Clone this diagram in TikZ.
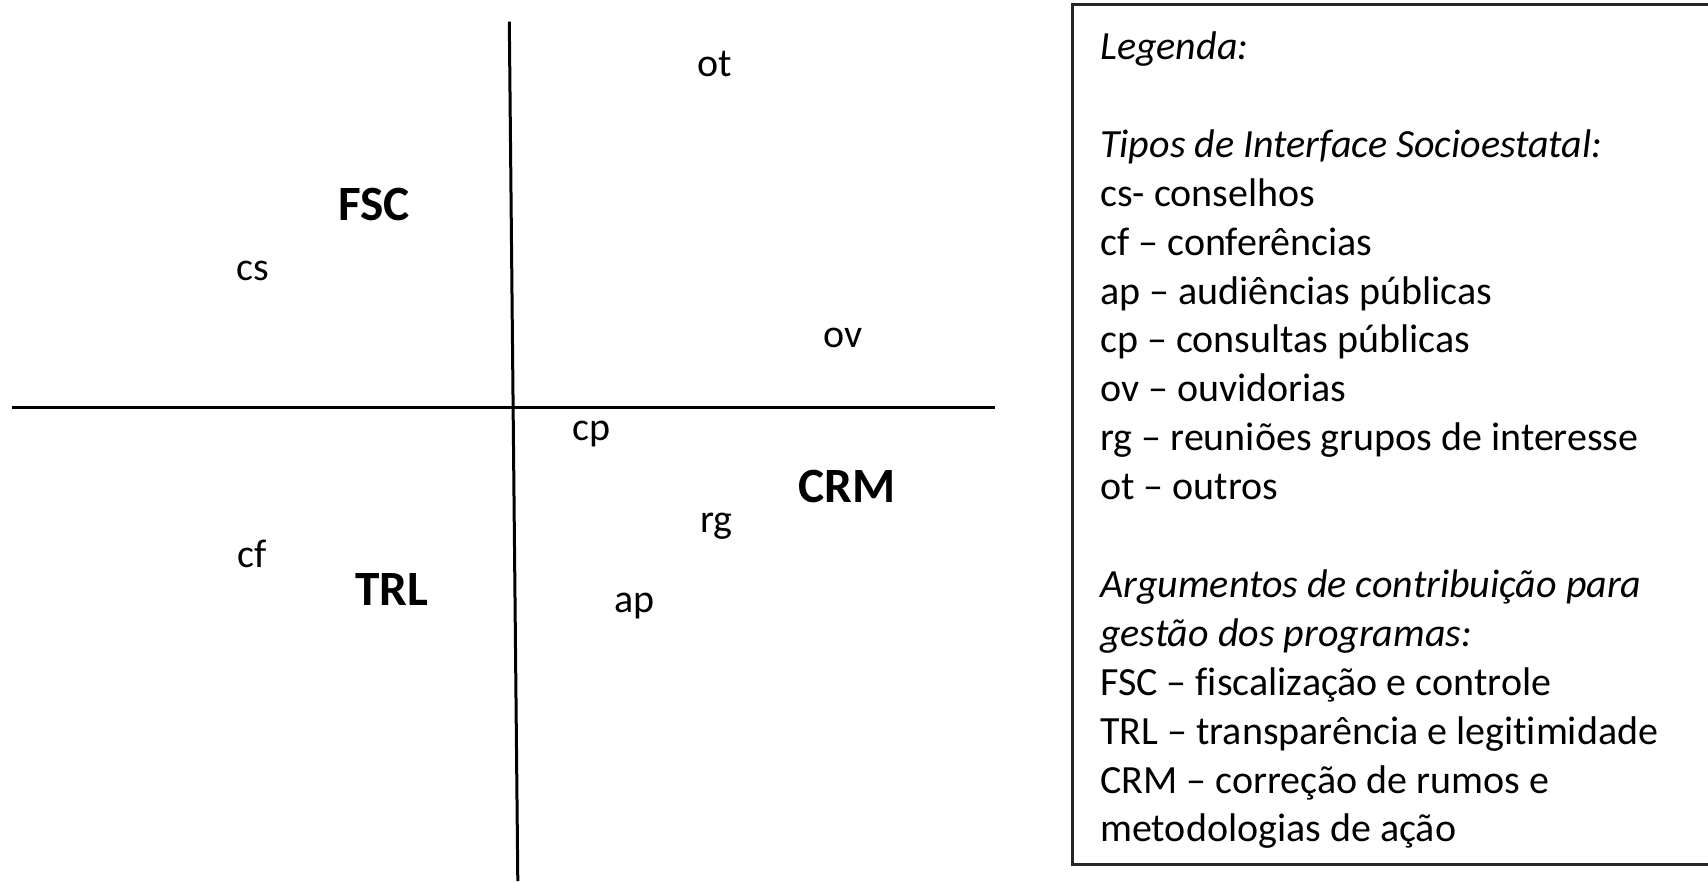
\documentclass[tikz,border=0pt]{standalone}
\usepackage{fontspec}
\setmainfont{Carlito}[Ligatures={TeX,NoCommon}]
\tikzset{
  axis/.style={line width=2.25pt, black},
  frame/.style={line width=2.25pt, black!85},
  lab/.style={anchor=base west, inner sep=0pt, font=\fontsize{30}{36}\selectfont},
  arg/.style={anchor=base west, inner sep=0pt, font=\fontsize{37}{44}\selectfont\bfseries},
  leg/.style={anchor=base west, inner sep=0pt, font=\fontsize{30}{36}\selectfont},
}
\begin{document}
\begin{tikzpicture}[x=0.75pt, y=-0.75pt]
\useasboundingbox (0,0) rectangle (1708,881);
% axes
\coordinate (vtop) at (509.3,21.7);
\coordinate (vbot) at (517.8,881);
\coordinate (hl) at (11.7,407.7);
\coordinate (hr) at (995,407.7);
\draw[axis] (vtop) -- (vbot);
\draw[axis] (hl) -- (hr);
% quadrant labels
\node[lab] (ot) at (697,76) {ot};
\node[arg] (fsc) at (338,220) {FSC};
\node[lab] (cs) at (236,280) {cs};
\node[lab] (ov) at (823,347) {ov};
\node[lab] (cp) at (572,440) {cp};
\node[arg] (crm) at (798,502) {CRM};
\node[lab] (rg) at (700,532) {rg};
\node[lab] (cf) at (237,567) {cf};
\node[arg] (trl) at (355,605) {TRL};
\node[lab] (ap) at (614,612) {ap};
% legend frame (right side runs off the page)
\coordinate (ftr) at (1708,4.5);
\coordinate (ftl) at (1072,4.5);
\coordinate (fbl) at (1072,864);
\coordinate (fbr) at (1708,864);
\draw[frame] (ftr) -- (ftl) -- (fbl) -- (fbr);
% legend text
\foreach \i/\t in {
  0/{\textit{Legenda:}},
  2/{\textit{Tipos de Interface Socioestatal:}},
  3/{cs- conselhos},
  4/{cf – conferências},
  5/{ap – audiências públicas},
  6/{cp – consultas públicas},
  7/{ov – ouvidorias},
  8/{rg – reuniões grupos de interesse},
  9/{ot – outros},
  11/{\textit{Argumentos de contribuição para}},
  12/{\textit{gestão dos programas:}},
  13/{FSC – fiscalização e controle},
  14/{TRL – transparência e legitimidade},
  15/{CRM – correção de rumos e},
  16/{metodologias de ação}}
  \node[leg] (leg\i) at (1100,{59.5+48.9*\i}) {\t};
\end{tikzpicture}
\end{document}
